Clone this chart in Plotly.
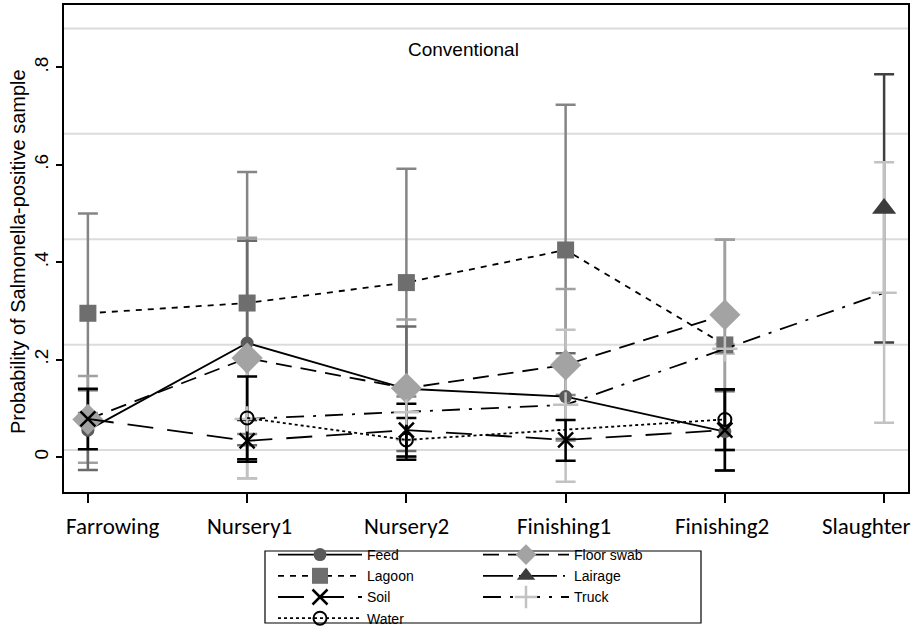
import plotly.graph_objects as go

stages = ["Farrowing", "Nursery1", "Nursery2", "Finishing1", "Finishing2", "Slaughter"]
y_ticks = [0, 0.2, 0.4, 0.6, 0.8]
y_ticktext = ["0", ".2", ".4", ".6", ".8"]
grid_y = [0.014, 0.2305, 0.447, 0.6635, 0.880]

feed = [0.055, 0.234, 0.140, 0.124, 0.052, None]
feed_lo = [-0.027, 0.024, 0.012, 0.037, -0.028, None]
feed_hi = [0.137, 0.444, 0.268, 0.213, 0.135, None]

floor_swab = [0.077, 0.203, 0.141, 0.189, 0.292, None]
floor_lo = [-0.012, -0.044, 0.000, 0.033, 0.138, None]
floor_hi = [0.166, 0.450, 0.282, 0.345, 0.446, None]

lagoon = [0.295, 0.316, 0.358, 0.425, 0.230, None]
lagoon_lo = [0.090, 0.047, 0.124, 0.127, 0.014, None]
lagoon_hi = [0.500, 0.585, 0.592, 0.723, 0.446, None]

lairage = [None, None, None, None, None, 0.510]
lairage_lo = [None, None, None, None, None, 0.235]
lairage_hi = [None, None, None, None, None, 0.786]

soil = [0.078, 0.033, 0.055, 0.035, 0.055, None]
soil_lo = [0.016, -0.010, 0.001, -0.008, -0.028, None]
soil_hi = [0.140, 0.076, 0.109, 0.076, 0.139, None]

truck = [None, 0.078, 0.092, 0.107, 0.222, 0.337]
truck_lo = [None, -0.044, 0.035, -0.051, 0.212, 0.070]
truck_hi = [None, 0.200, 0.149, 0.261, 0.232, 0.605]

water = [None, 0.080, 0.035, None, 0.077, None]
water_lo = [None, -0.005, -0.006, None, 0.014, None]
water_hi = [None, 0.165, 0.080, None, 0.139, None]

x_idx = list(range(len(stages)))

# layout geometry (pixels)
W, H = 916, 626
ML, MR, MT, MB = 64, 8, 5, 134
PW, PH = W - ML - MR, H - MT - MB


def px_x(p):
    return (p - ML) / PW


def px_y(p):
    return (H - MB - p) / PH


def err(vals, lo, hi):
    plus = [None if v is None else h - v for v, h in zip(vals, hi)]
    minus = [None if v is None else v - l for v, l in zip(vals, lo)]
    return plus, minus


series = {
    "Feed": dict(v=feed, lo=feed_lo, hi=feed_hi, ecol="#6a6a6a", legend="legend",
                 line=dict(color="black", width=1.8, dash="solid"),
                 marker=dict(symbol="circle", size=13, color="#5a5a5a"), rank=1),
    "Floor swab": dict(v=floor_swab, lo=floor_lo, hi=floor_hi, ecol="#a0a0a0", legend="legend2",
                       line=dict(color="black", width=1.8, dash="16px,9px"),
                       marker=dict(symbol="diamond", size=24, color="#a3a3a3"), rank=2),
    "Lagoon": dict(v=lagoon, lo=lagoon_lo, hi=lagoon_hi, ecol="#858585", legend="legend",
                   line=dict(color="black", width=1.8, dash="6px,6px"),
                   marker=dict(symbol="square", size=17, color="#6e6e6e"), rank=3),
    "Lairage": dict(v=lairage, lo=lairage_lo, hi=lairage_hi, ecol="#404040", legend="legend2",
                    line=dict(color="black", width=1.8, dash="30px,6px,2px,6px"),
                    marker=dict(symbol="triangle-up", size=21, color="#3c3c3c"), rank=4),
    "Soil": dict(v=soil, lo=soil_lo, hi=soil_hi, ecol="black", legend="legend",
                 line=dict(color="black", width=1.8, dash="26px,14px"),
                 marker=dict(symbol="x-thin", size=15, color="black",
                             line=dict(color="black", width=2.5)), rank=5),
    "Truck": dict(v=truck, lo=truck_lo, hi=truck_hi, ecol="#c2c2c2", legend="legend2",
                  line=dict(color="black", width=1.8, dash="18px,9px,3px,9px"),
                  marker=dict(symbol="cross-thin", size=18, color="#c2c2c2",
                              line=dict(color="#c2c2c2", width=2.5)), rank=6),
    "Water": dict(v=water, lo=water_lo, hi=water_hi, ecol="black", legend="legend",
                  line=dict(color="black", width=1.8, dash="dot"),
                  marker=dict(symbol="circle-open", size=13, color="black",
                              line=dict(color="black", width=2)), rank=7),
}

fig = go.Figure()

# confidence intervals (drawn first, under all lines and markers)
for name in ["Lairage", "Lagoon", "Floor swab", "Feed", "Truck", "Soil", "Water"]:
    s = series[name]
    plus, minus = err(s["v"], s["lo"], s["hi"])
    fig.add_trace(go.Scatter(
        x=x_idx, y=s["v"], mode="markers",
        marker=dict(size=1, color="rgba(0,0,0,0)"),
        error_y=dict(type="data", symmetric=False, array=plus, arrayminus=minus,
                     color=s["ecol"], thickness=2.5, width=10),
        showlegend=False, hoverinfo="skip"))

# point estimates with connecting lines
for name in ["Lagoon", "Feed", "Floor swab", "Truck", "Soil", "Water", "Lairage"]:
    s = series[name]
    fig.add_trace(go.Scatter(
        x=x_idx, y=s["v"], mode="lines+markers", name=name,
        line=s["line"], marker=s["marker"], connectgaps=True,
        legend=s["legend"], legendrank=s["rank"]))

shapes = [dict(type="line", xref="paper", x0=0, x1=1, yref="y", y0=g, y1=g,
               line=dict(color="#dcdcdc", width=2), layer="below") for g in grid_y]
# legend frame
shapes.append(dict(type="rect", xref="paper", yref="paper",
                   x0=px_x(265), x1=px_x(701), y0=px_y(551), y1=px_y(623),
                   line=dict(color="black", width=1.2)))

annotations = [dict(text="Conventional", xref="paper", yref="paper", x=px_x(463), y=px_y(50),
                    xanchor="center", yanchor="middle", showarrow=False,
                    font=dict(family="Liberation Sans, Arial", size=19, color="black")),
               dict(text="Probability of Salmonella-positive sample", xref="paper", yref="paper",
                    x=px_x(18), y=px_y(252), xanchor="center", yanchor="middle",
                    textangle=-90, showarrow=False,
                    font=dict(family="Liberation Sans, Arial", size=20, color="black"))]
shifts = [25, 2, 0, -2, -3, -18]
for i, lab in enumerate(stages):
    annotations.append(dict(text=lab, x=x_idx[i], xref="x", y=0, yref="paper", yshift=-34,
                            xshift=shifts[i], yanchor="middle", showarrow=False,
                            font=dict(family="Carlito, Lato, sans-serif", size=23,
                                      weight=300, color="black")))

legend_font = dict(family="Liberation Sans, Arial", size=14, color="black")

fig.update_layout(
    width=W, height=H,
    margin=dict(l=ML, r=MR, t=MT, b=MB, autoexpand=False),
    paper_bgcolor="white", plot_bgcolor="white",
    shapes=shapes, annotations=annotations,
    xaxis=dict(range=[-0.15, 5.15], tickvals=x_idx, ticktext=[""] * len(stages),
               ticks="outside", ticklen=9, tickwidth=2, tickcolor="black",
               showgrid=False, zeroline=False, showline=True, linecolor="black",
               linewidth=2, mirror=True, automargin=False),
    yaxis=dict(range=[-0.072, 0.928], tickvals=y_ticks, ticktext=y_ticktext,
               tickangle=-90, ticks="outside", ticklen=6, tickwidth=1.5, tickcolor="black",
               tickfont=dict(family="Liberation Sans, Arial", size=19, color="black"),
               showgrid=False, zeroline=False, showline=True, linecolor="black",
               linewidth=2, mirror=True, automargin=False),
    legend=dict(orientation="v", x=px_x(273), xanchor="left", y=px_y(539), yanchor="top",
                itemwidth=84, bgcolor="rgba(0,0,0,0)", borderwidth=0,
                tracegroupgap=0, font=legend_font),
    legend2=dict(orientation="v", x=px_x(478), xanchor="left", y=px_y(539), yanchor="top",
                 itemwidth=86, bgcolor="rgba(0,0,0,0)", borderwidth=0,
                 tracegroupgap=0, font=legend_font),
    showlegend=True,
)

fig.write_html("out.html", config={"displayModeBar": False},
               post_script="document.body.style.margin='0';document.body.style.padding='0';")
